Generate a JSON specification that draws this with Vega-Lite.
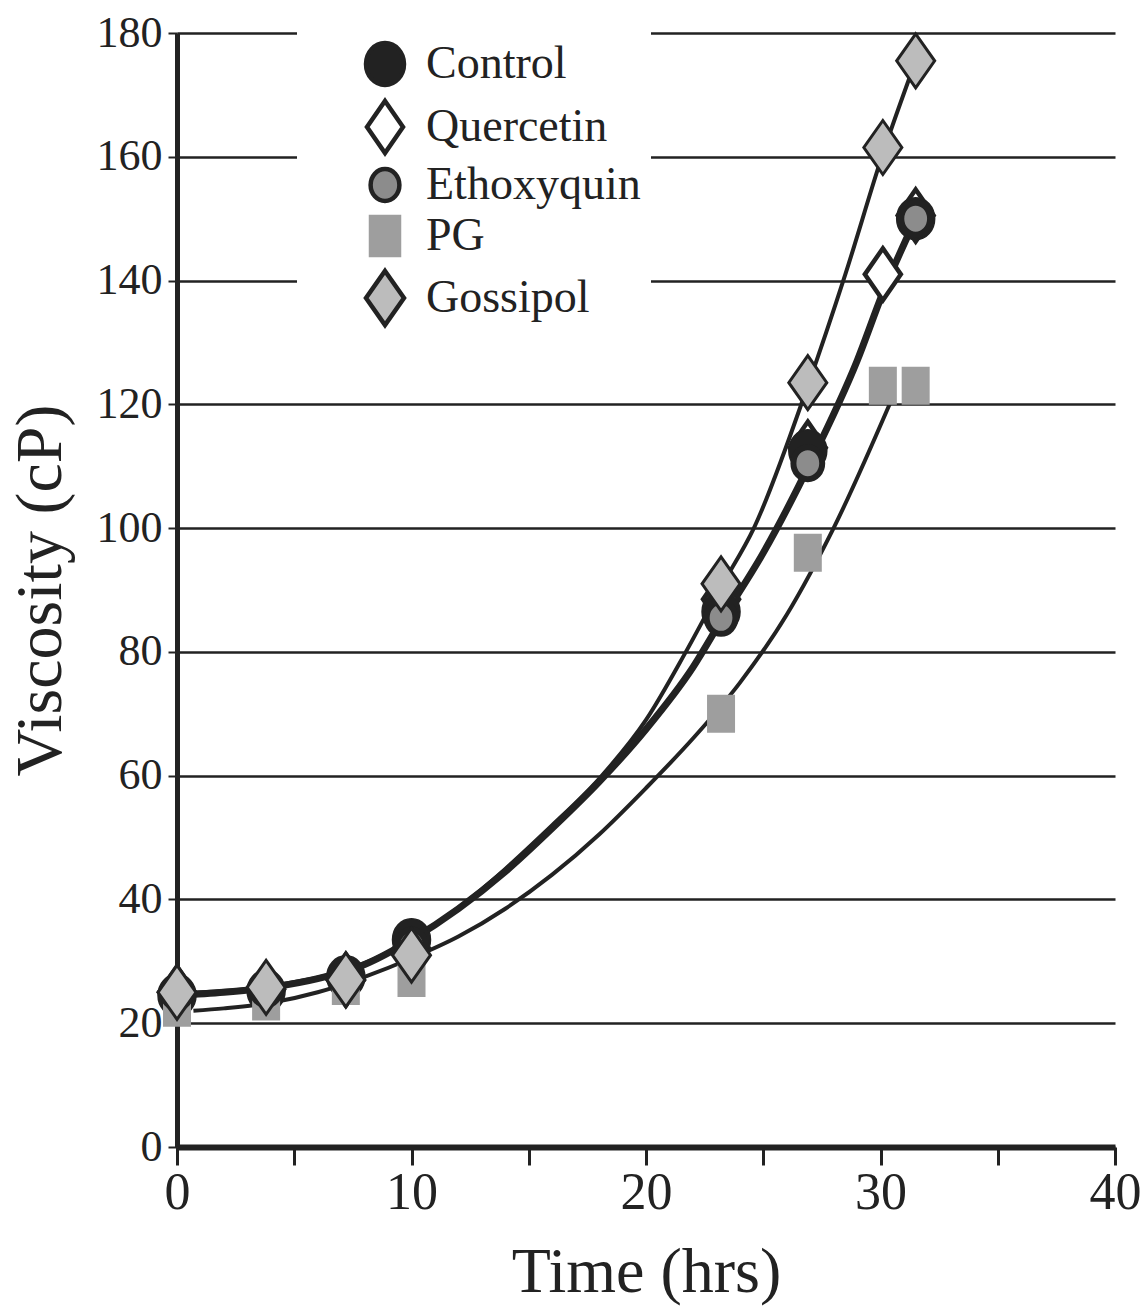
{
  "$schema": "https://vega.github.io/schema/vega-lite/v6.json",
  "width": 938,
  "height": 1114,
  "autosize": {"type": "none"},
  "padding": {"left": 177, "top": 33, "right": 28, "bottom": 167},
  "background": "white",
  "config": {
    "view": {"stroke": null},
    "font": "Liberation Serif",
    "legend": {
      "orient": "none",
      "legendX": 120,
      "legendY": -2,
      "fillColor": "white",
      "padding": 10,
      "labelFont": "Liberation Serif",
      "labelFontSize": 46,
      "labelColor": "#222",
      "labelOffset": 18,
      "symbolOffset": 55,
      "symbolSize": 1600,
      "symbolStrokeWidth": 4.5,
      "rowPadding": -2,
      "labelLimit": 400
    }
  },
  "datasets": {
    "points": [
      {"series": "Quercetin", "t": 0, "v": 25},
      {"series": "Quercetin", "t": 3.8, "v": 25.5},
      {"series": "Quercetin", "t": 7.2, "v": 27},
      {"series": "Quercetin", "t": 10, "v": 32},
      {"series": "Quercetin", "t": 23.2, "v": 88.5},
      {"series": "Quercetin", "t": 26.9, "v": 113},
      {"series": "Quercetin", "t": 30.1, "v": 141},
      {"series": "Quercetin", "t": 31.5, "v": 150.5},
      {"series": "Control", "t": 0, "v": 24.5},
      {"series": "Control", "t": 3.8, "v": 25.2},
      {"series": "Control", "t": 7.2, "v": 27.5},
      {"series": "Control", "t": 10, "v": 33.5},
      {"series": "Control", "t": 23.2, "v": 86.5},
      {"series": "Control", "t": 26.9, "v": 112.5},
      {"series": "Control", "t": 31.5, "v": 150},
      {"series": "PG", "t": 0, "v": 22.5},
      {"series": "PG", "t": 3.8, "v": 23.5},
      {"series": "PG", "t": 7.2, "v": 26},
      {"series": "PG", "t": 10, "v": 27.3},
      {"series": "PG", "t": 23.2, "v": 70},
      {"series": "PG", "t": 26.9, "v": 96},
      {"series": "PG", "t": 30.1, "v": 123},
      {"series": "PG", "t": 31.5, "v": 123},
      {"series": "Ethoxyquin", "t": 0, "v": 25},
      {"series": "Ethoxyquin", "t": 3.8, "v": 25.5},
      {"series": "Ethoxyquin", "t": 7.2, "v": 27.5},
      {"series": "Ethoxyquin", "t": 10, "v": 32.5},
      {"series": "Ethoxyquin", "t": 23.2, "v": 85.5},
      {"series": "Ethoxyquin", "t": 26.9, "v": 110.5},
      {"series": "Ethoxyquin", "t": 31.5, "v": 150},
      {"series": "Gossipol", "t": 0, "v": 25},
      {"series": "Gossipol", "t": 3.8, "v": 25.8},
      {"series": "Gossipol", "t": 7.2, "v": 27},
      {"series": "Gossipol", "t": 10, "v": 31},
      {"series": "Gossipol", "t": 23.2, "v": 91},
      {"series": "Gossipol", "t": 26.9, "v": 123.5},
      {"series": "Gossipol", "t": 30.1, "v": 161.5},
      {"series": "Gossipol", "t": 31.5, "v": 175.5}
    ],
    "curves": [
      {"curve": "fit", "t": 0, "v": 24.5},
      {"curve": "fit", "t": 2, "v": 25},
      {"curve": "fit", "t": 4, "v": 25.8},
      {"curve": "fit", "t": 6, "v": 27.2},
      {"curve": "fit", "t": 8, "v": 29.5},
      {"curve": "fit", "t": 10, "v": 33.5},
      {"curve": "fit", "t": 12, "v": 38.5},
      {"curve": "fit", "t": 14, "v": 44.5},
      {"curve": "fit", "t": 16, "v": 51.5},
      {"curve": "fit", "t": 18, "v": 59},
      {"curve": "fit", "t": 20, "v": 67.5},
      {"curve": "fit", "t": 22, "v": 77.5},
      {"curve": "fit", "t": 23.2, "v": 85},
      {"curve": "fit", "t": 25, "v": 96},
      {"curve": "fit", "t": 27, "v": 110.5},
      {"curve": "fit", "t": 29, "v": 127},
      {"curve": "fit", "t": 30.1, "v": 138},
      {"curve": "fit", "t": 31.5, "v": 150},
      {"curve": "gossipol", "t": 0, "v": 24.8},
      {"curve": "gossipol", "t": 4, "v": 26},
      {"curve": "gossipol", "t": 8, "v": 29.7},
      {"curve": "gossipol", "t": 12, "v": 38.7},
      {"curve": "gossipol", "t": 16, "v": 52},
      {"curve": "gossipol", "t": 18, "v": 59.5},
      {"curve": "gossipol", "t": 20, "v": 69},
      {"curve": "gossipol", "t": 21.7, "v": 80},
      {"curve": "gossipol", "t": 23.2, "v": 90.5},
      {"curve": "gossipol", "t": 24.6, "v": 100},
      {"curve": "gossipol", "t": 26.9, "v": 123},
      {"curve": "gossipol", "t": 28.5, "v": 141},
      {"curve": "gossipol", "t": 30.1, "v": 160.5},
      {"curve": "gossipol", "t": 31.5, "v": 175.5},
      {"curve": "pg", "t": 0.7, "v": 22},
      {"curve": "pg", "t": 2, "v": 22.4},
      {"curve": "pg", "t": 4, "v": 23.3},
      {"curve": "pg", "t": 6, "v": 25},
      {"curve": "pg", "t": 8, "v": 27.5},
      {"curve": "pg", "t": 10, "v": 30.5},
      {"curve": "pg", "t": 12, "v": 34},
      {"curve": "pg", "t": 14, "v": 38.5},
      {"curve": "pg", "t": 16, "v": 44},
      {"curve": "pg", "t": 18, "v": 50.5},
      {"curve": "pg", "t": 20, "v": 58},
      {"curve": "pg", "t": 22, "v": 66},
      {"curve": "pg", "t": 24, "v": 75},
      {"curve": "pg", "t": 26, "v": 86},
      {"curve": "pg", "t": 28, "v": 100},
      {"curve": "pg", "t": 30.5, "v": 121}
    ]
  },
  "layer": [
    {
      "data": {"name": "curves"},
      "transform": [{"filter": "datum.curve !== 'fit'"}],
      "mark": {"type": "line", "interpolate": "monotone", "color": "#222", "strokeWidth": 4},
      "encoding": {
        "x": {
          "field": "t", "type": "quantitative",
          "scale": {"domain": [0, 40], "nice": false},
          "axis": {
            "values": [0, 5, 10, 15, 20, 25, 30, 35, 40],
            "labelExpr": "datum.value % 10 === 0 ? datum.label : ''",
            "title": "Time (hrs)",
            "grid": false,
            "domainColor": "#222", "domainWidth": 6,
            "tickColor": "#222", "tickWidth": 3, "tickSize": 18,
            "labelFont": "Liberation Serif", "labelFontSize": 52, "labelColor": "#222", "labelPadding": 2, "labelFlush": false,
            "titleFont": "Liberation Serif", "titleFontSize": 64, "titleFontWeight": "normal", "titleColor": "#222", "titlePadding": 22
          }
        },
        "y": {
          "field": "v", "type": "quantitative",
          "scale": {"domain": [0, 180], "nice": false},
          "axis": {
            "values": [0, 20, 40, 60, 80, 100, 120, 140, 160, 180],
            "title": "Viscosity (cP)",
            "grid": true, "gridColor": "#222", "gridWidth": 2.5, "gridOpacity": 1,
            "domainColor": "#222", "domainWidth": 5,
            "tickColor": "#222", "tickWidth": 2, "tickSize": 9,
            "labelFont": "Liberation Serif", "labelFontSize": 44, "labelColor": "#222", "labelPadding": 6,
            "titleFont": "Liberation Serif", "titleFontSize": 66, "titleFontWeight": "normal", "titleColor": "#222", "titlePadding": 22
          }
        },
        "detail": {"field": "curve"}
      }
    },
    {
      "data": {"name": "curves"},
      "transform": [{"filter": "datum.curve === 'fit'"}],
      "mark": {"type": "line", "interpolate": "monotone", "color": "#222", "strokeWidth": 7},
      "encoding": {
        "x": {"field": "t", "type": "quantitative"},
        "y": {"field": "v", "type": "quantitative"}
      }
    },
    {
      "data": {"name": "points"},
      "mark": {"type": "point", "filled": true, "opacity": 1, "size": 1600},
      "encoding": {
        "x": {"field": "t", "type": "quantitative"},
        "y": {"field": "v", "type": "quantitative"},
        "shape": {
          "field": "series", "type": "nominal",
          "scale": {"domain": ["Control", "Quercetin", "Ethoxyquin", "PG", "Gossipol"],
                    "range": [
                      "M-0.95,0A0.95,1.05 0 1,0 0.95,0A0.95,1.05 0 1,0 -0.95,0Z",
                      "M0,-1.3L0.9,0L0,1.3L-0.9,0Z",
                      "M-0.72,0A0.72,0.8 0 1,0 0.72,0A0.72,0.8 0 1,0 -0.72,0Z",
                      "M-0.7,-0.95L0.7,-0.95L0.7,0.95L-0.7,0.95Z",
                      "M0,-1.35L0.95,0L0,1.35L-0.95,0Z"
                    ]},
          "legend": {"title": null}
        },
        "fill": {
          "field": "series", "type": "nominal",
          "scale": {"domain": ["Control", "Quercetin", "Ethoxyquin", "PG", "Gossipol"],
                    "range": ["#222222", "#ffffff", "#8c8c8c", "#9e9e9e", "#bcbcbc"]},
          "legend": {"title": null}
        },
        "stroke": {
          "field": "series", "type": "nominal",
          "scale": {"domain": ["Control", "Quercetin", "Ethoxyquin", "PG", "Gossipol"],
                    "range": ["#222222", "#222222", "#222222", "#9e9e9e", "#222222"]},
          "legend": {"title": null}
        },
        "strokeWidth": {
          "field": "series", "type": "nominal",
          "scale": {"domain": ["PG", "Control", "Gossipol", "Quercetin", "Ethoxyquin"],
                    "range": [0, 6], "padding": 0},
          "legend": null
        }
      }
    }
  ]
}
